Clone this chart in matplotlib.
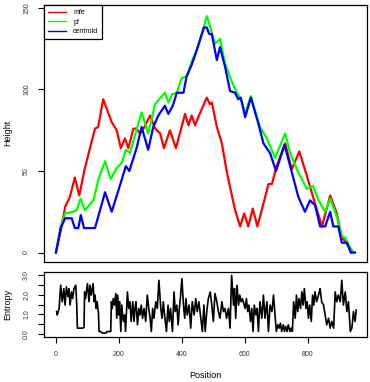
import numpy as np
import matplotlib
matplotlib.use("Agg")
import matplotlib.pyplot as plt

plt.rcParams["font.family"] = ["Liberation Sans", "DejaVu Sans"]

# mountain plot vertices (position, height)
mfe_pos = [0, 18, 29, 44, 60, 74, 92, 124, 134, 150, 177, 193, 206, 219, 230, 246, 256, 267, 278, 299,
           315, 331, 343, 362, 381, 410, 421, 431, 442, 452, 479, 489, 495, 511, 527, 543, 569, 585,
           598, 611, 625, 640, 659, 675, 686, 701, 728, 749, 773, 797, 823, 845, 871, 892, 908, 919,
           929, 937]
mfe_h = [0, 16, 28, 34, 46, 35, 52, 76, 77, 94, 80, 75, 64, 70, 64, 76, 76, 73, 76, 84,
         76, 73, 64, 75, 64, 85, 78, 84, 78, 83, 95, 91, 92, 77, 67, 49, 26, 16,
         24, 16, 27, 16, 30, 42, 42, 53, 67, 51, 62, 47, 30, 16, 35, 24, 9, 7,
         4, 0]

pf_pos = [0, 15, 29, 55, 66, 78, 92, 119, 135, 156, 174, 193, 209, 222, 235, 272, 293, 315, 346, 357,
          368, 384, 399, 415, 431, 447, 468, 479, 489, 505, 521, 537, 558, 575, 590, 601, 619, 648,
          670, 696, 728, 744, 765, 797, 816, 834, 855, 871, 892, 908, 919, 932, 945]
pf_h = [0, 16, 24, 25, 26, 33, 26, 32, 45, 56, 45, 52, 55, 63, 61, 86, 73, 91, 98, 92,
        97, 98, 107, 108, 117, 124, 137, 145, 139, 128, 131, 116, 105, 98, 93, 85, 96, 77,
        70, 58, 73, 61, 51, 39, 41, 32, 25, 33, 22, 10, 9, 4, 0]

cen_pos = [0, 15, 29, 50, 60, 71, 79, 89, 124, 156, 177, 203, 222, 233, 256, 272, 293, 309, 325, 346,
           357, 371, 384, 405, 415, 431, 447, 470, 479, 487, 495, 511, 521, 537, 553, 569, 579, 587,
           601, 619, 643, 659, 680, 699, 726, 744, 770, 791, 807, 823, 839, 855, 871, 881, 897, 908,
           924, 937, 950]
cen_h = [0, 15, 21, 21, 15, 15, 23, 15, 15, 37, 25, 41, 53, 50, 64, 77, 63, 77, 84, 90,
         85, 90, 98, 98, 108, 115, 124, 138, 138, 134, 134, 118, 126, 114, 99, 98, 94, 95,
         83, 95, 79, 67, 61, 50, 66, 53, 34, 25, 32, 29, 16, 16, 25, 16, 16, 6,
         6, 0, 0]

# positional entropy
ent_pos = [2, 4, 10, 15, 20, 25, 29, 33, 38, 41, 45, 49, 53, 57, 63, 66, 68, 73, 84, 89,
           91, 94, 100, 105, 108, 112, 118, 121, 124, 128, 131, 135, 137, 142, 147, 158, 163, 168,
           174, 176, 179, 182, 186, 190, 193, 196, 199, 202, 206, 209, 214, 218, 221, 227, 231,
           235, 239, 244, 248, 251, 254, 259, 263, 267, 271, 275, 280, 285, 290, 296, 299, 303,
           307, 311, 317, 322, 327, 333, 337, 341, 345, 351, 356, 360, 364, 370, 375, 379, 384,
           388, 392, 396, 400, 405, 409, 413, 417, 423, 428, 433, 439, 444, 449, 454, 460, 465,
           470, 474, 479, 484, 490, 495, 500, 505, 511, 516, 521, 527, 532, 537, 542, 548, 553,
           558, 564, 567, 571, 575, 580, 584, 588, 592, 598, 601, 605, 609, 613, 618, 622, 626,
           630, 635, 639, 643, 648, 654, 659, 664, 670, 675, 680, 686, 691, 696, 700, 705, 709,
           713, 717, 722, 726, 730, 734, 738, 743, 747, 751, 755, 760, 764, 768, 772, 777, 781,
           785, 789, 794, 798, 802, 806, 811, 815, 819, 823, 828, 834, 839, 844, 850, 855, 860,
           866, 871, 876, 882, 887, 892, 897, 903, 908, 913, 919, 924, 929, 935, 940, 945, 950, 954]
ent_val = [1.14, 0.97, 1.3, 2.48, 1.64, 2.3, 1.47, 2.4, 1.9, 2.3, 1.47, 2.14, 1.8, 2.3, 2.48, 1.47, 0.3, 0.3, 0.3, 0.33,
           2.14, 1.8, 2.56, 1.64, 2.48, 1.98, 2.56, 1.64, 1.98, 1.3, 1.64, 1.05, 0.13, 0.13, 0.05, 0.05, 0.13, 0.13,
           0.13, 1.64, 1.3, 1.8, 1.47, 2.06, 0.8, 1.98, 0.97, 1.64, 0.13, 1.47, 0.64, 0.97, 0.13, 2.14, 1.3,
           1.64, 0.64, 1.64, 0.64, 1.3, 1.64, 0.47, 1.3, 0.97, 1.47, 0.8, 1.3, 0.64, 1.98, 1.14, 0.8, 0.13,
           1.3, 0.8, 1.64, 1.3, 2.73, 1.3, 0.8, 1.64, 0.97, 0.13, 1.47, 0.64, 1.3, 0.13, 2.14, 1.14, 1.47,
           0.47, 1.3, 1.98, 2.81, 1.47, 0.8, 1.8, 0.97, 1.47, 0.3, 1.64, 0.97, 1.8, 1.14, 1.64, 0.8, 0.13,
           1.47, 0.13, 1.14, 1.8, 2.14, 1.47, 0.64, 2.06, 1.64, 1.14, 0.8, 1.64, 1.14, 1.3, 0.8, 1.3, 0.3,
           2.98, 1.47, 2.31, 0.8, 2.48, 1.47, 1.98, 1.64, 1.8, 1.47, 1.3, 1.8, 1.14, 1.47, 0.64, 1.3, 0.13,
           1.47, 0.97, 1.3, 0.13, 1.64, 0.8, 1.98, 0.8, 1.64, 0.13, 1.47, 1.14, 1.98, 0.97, 0.13, 0.47, 0.3,
           0.55, 0.13, 0.47, 0.13, 0.39, 0.13, 0.47, 0.13, 0.3, 0.13, 1.64, 0.8, 1.98, 1.14, 1.8, 1.3, 2.14,
           1.47, 2.31, 1.3, 1.64, 0.8, 1.47, 0.64, 1.98, 1.47, 2.14, 1.64, 1.98, 2.31, 1.64, 1.47, 0.97, 0.47,
           0.8, 0.3, 0.64, 0.3, 2.14, 1.64, 1.98, 1.64, 2.73, 1.47, 2.14, 1.14, 1.64, 0.13, 0.3, 1.14, 0.64, 1.22]

series = [("mfe", mfe_pos, mfe_h, "#ff0000"),
          ("pf", pf_pos, pf_h, "#00ff00"),
          ("centroid", cen_pos, cen_h, "#0000ff")]

fig = plt.figure(figsize=(3.7, 3.82), dpi=100)
ax1 = fig.add_axes([44 / 370, 1 - 262 / 382, 323 / 370, 257 / 382])
ax2 = fig.add_axes([44 / 370, 1 - 337 / 382, 323 / 370, 65 / 382])

for name, xs, ys, col in series:
    ax1.plot(xs, ys, color=col, lw=1.6, label=name)

ax1.set_xlim(-38, 988)
ax1.set_ylim(-5.8, 151.8)
ax1.set_xticks([])
ax1.set_yticks([0, 50, 100, 150])
ax1.set_yticklabels(["0", "50", "100", "150"], rotation=90, va="center")

leg = ax1.legend(loc="upper left", borderaxespad=0, fontsize=5, handlelength=2.6,
                 handletextpad=1.0, labelspacing=0.35, borderpad=0.6, fancybox=False,
                 framealpha=1)
leg.get_frame().set_edgecolor("black")
leg.get_frame().set_linewidth(0.9)
for h in leg.get_lines():
    h.set_linewidth(1.0)

ax2.plot(ent_pos, ent_val, color="black", lw=1.2)
ax2.set_xlim(-38, 988)
ax2.set_ylim(-0.15, 3.15)
ax2.set_yticks(np.arange(0, 3.01, 0.5))
ax2.set_yticklabels(["0.0", "", "1.0", "", "2.0", "", "3.0"], rotation=90, va="center")
ax2.set_xticks([0, 200, 400, 600, 800])

for ax in (ax1, ax2):
    for sp in ax.spines.values():
        sp.set_linewidth(0.9)
    ax.tick_params(direction="out", length=4, width=0.8, labelsize=5, pad=6,
                   labelcolor="#333333")

fig.text(8 / 370, 1 - 133 / 382, "Height", rotation=90, ha="center", va="center", fontsize=6.5)
fig.text(8 / 370, 1 - 305 / 382, "Entropy", rotation=90, ha="center", va="center", fontsize=6.5)
fig.text(205 / 370, 1 - 375 / 382, "Position", ha="center", va="center", fontsize=6.5)

fig.savefig("out.png", dpi=100)
